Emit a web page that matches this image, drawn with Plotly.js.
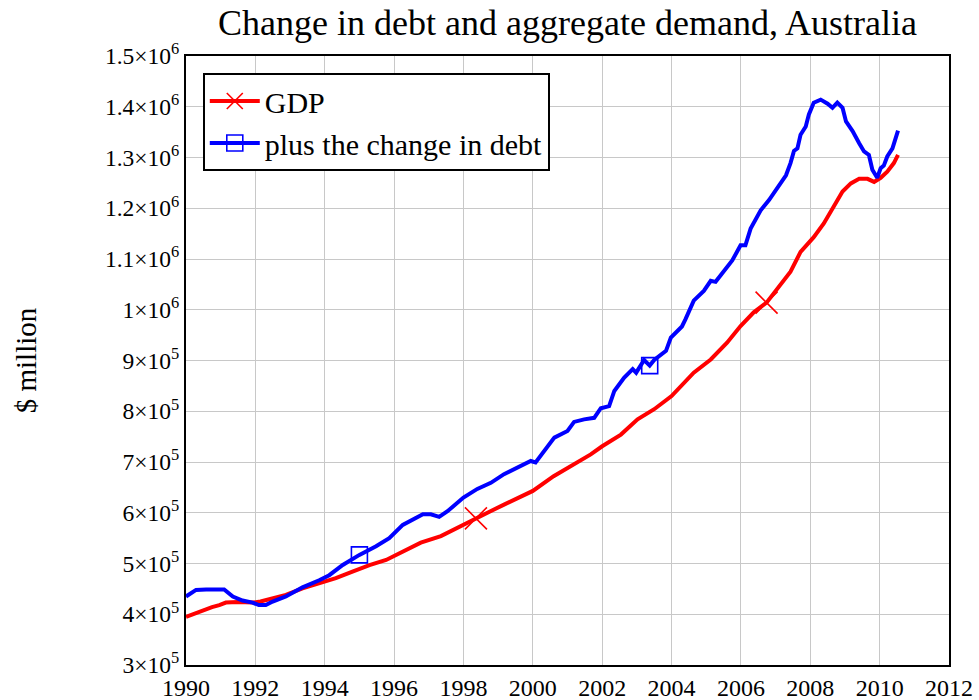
<!DOCTYPE html>
<html>
<head>
<meta charset="utf-8">
<script src="https://cdn.plot.ly/plotly-3.0.1.min.js"></script>
<style>html,body{margin:0;padding:0;background:#fff;}#chart{width:979px;height:700px;}</style>
</head>
<body>
<div id="chart"></div>
<script>
// GDP ($ million)
const gdpYears = [1990.0,1990.25,1990.48,1990.75,1990.96,1991.15,1991.5,1991.92,1992.15,1992.4,1992.88,1993.36,1993.84,1994.32,1994.8,1995.29,1995.77,1996.25,1996.77,1997.35,1998.0,1998.36,1998.75,1999.17,1999.6,2000.0,2000.6,2001.1,2001.67,2002.0,2002.54,2003.02,2003.5,2004.0,2004.27,2004.64,2005.13,2005.6,2005.99,2006.37,2006.74,2007.05,2007.43,2007.72,2008.1,2008.39,2008.68,2008.93,2009.17,2009.41,2009.65,2009.84,2010.03,2010.22,2010.41,2010.53];
const gdpValues = [395000,402000,408000,414000,418000,423000,424000,423000,425000,429000,438000,451000,461000,471000,484000,497000,507000,523000,541000,554000,577000,589000,602000,616000,629000,643000,672000,692000,715000,731000,754000,784000,804000,830000,850000,876000,902000,935000,968000,995000,1014000,1041000,1075000,1114000,1143000,1170000,1206000,1233000,1249000,1258000,1258000,1252000,1260000,1272000,1289000,1305000];
// GDP plus the change in debt ($ million)
const debtYears = [1990.0,1990.29,1990.58,1990.87,1991.1,1991.35,1991.63,1991.92,1992.1,1992.3,1992.5,1992.88,1993.36,1993.84,1994.13,1994.52,1995.0,1995.48,1995.86,1996.25,1996.54,1996.83,1997.06,1997.3,1997.54,1998.0,1998.4,1998.79,1999.17,1999.56,1999.94,2000.08,2000.28,2000.62,2001.0,2001.19,2001.48,2001.77,2001.96,2002.2,2002.35,2002.63,2002.88,2002.98,2003.21,2003.37,2003.5,2003.84,2003.98,2004.3,2004.4,2004.64,2004.93,2005.13,2005.27,2005.5,2005.75,2005.99,2006.13,2006.28,2006.57,2006.81,2007.05,2007.3,2007.43,2007.53,2007.63,2007.72,2007.87,2007.96,2008.1,2008.3,2008.5,2008.64,2008.78,2008.93,2009.03,2009.22,2009.41,2009.55,2009.69,2009.79,2009.93,2010.03,2010.12,2010.22,2010.37,2010.53];
const debtValues = [435000,448000,449000,448000,449000,435000,427000,423000,418000,418000,425000,435000,453000,467000,477000,497000,517000,534000,550000,576000,586000,597000,597000,592000,603000,630000,647000,659000,676000,689000,702000,699000,717000,748000,761000,779000,784000,787000,806000,810000,840000,866000,883000,876000,901000,890000,901000,919000,945000,967000,981000,1018000,1037000,1057000,1055000,1075000,1097000,1127000,1127000,1160000,1196000,1216000,1239000,1265000,1289000,1313000,1318000,1345000,1361000,1385000,1408000,1414000,1406000,1398000,1408000,1398000,1371000,1352000,1328000,1312000,1305000,1276000,1260000,1279000,1284000,1302000,1318000,1353000];
// indices of the points that carry plot markers
const gdpMarkerIdx = [21, 40];
const debtMarkerIdx = [16, 45];
// tick labels
const xTickVals = [1990,1992,1994,1996,1998,2000,2002,2004,2006,2008,2010,2012];
const yTickVals = [300000,400000,500000,600000,700000,800000,900000,1000000,1100000,1200000,1300000,1400000,1500000];
const yTickText = ["3×10<sup>5</sup>","4×10<sup>5</sup>","5×10<sup>5</sup>","6×10<sup>5</sup>","7×10<sup>5</sup>","8×10<sup>5</sup>","9×10<sup>5</sup>","1×10<sup>6</sup>","1.1×10<sup>6</sup>","1.2×10<sup>6</sup>","1.3×10<sup>6</sup>","1.4×10<sup>6</sup>","1.5×10<sup>6</sup>"];

const font = 'Liberation Serif';
const red = 'rgb(255,0,0)';
const blue = 'rgb(0,0,255)';
const pick = (arr, idx) => idx.map(i => arr[i]);
const xMarker = {symbol: 'x-thin-open', size: 22, color: red, line: {color: red, width: 1.6}};
const sqMarker = {symbol: 'square-open', size: 16, color: blue, line: {color: blue, width: 1.6}};

const traces = [
  {x: gdpYears, y: gdpValues, mode: 'lines', line: {color: red, width: 4}, showlegend: false, hoverinfo: 'skip'},
  {x: debtYears, y: debtValues, mode: 'lines', line: {color: blue, width: 4}, showlegend: false, hoverinfo: 'skip'},
  {x: pick(gdpYears, gdpMarkerIdx), y: pick(gdpValues, gdpMarkerIdx), mode: 'markers', showlegend: false, marker: xMarker},
  {x: pick(debtYears, debtMarkerIdx), y: pick(debtValues, debtMarkerIdx), mode: 'markers', showlegend: false, marker: sqMarker},
  {x: [null], y: [null], mode: 'lines+markers', name: 'GDP', line: {color: red, width: 4}, marker: xMarker},
  {x: [null], y: [null], mode: 'lines+markers', name: 'plus the change in debt', line: {color: blue, width: 4}, marker: sqMarker}
];

const layout = {
  width: 979, height: 700,
  margin: {l: 186, r: 30, t: 56, b: 35},
  paper_bgcolor: '#fff', plot_bgcolor: '#fff',
  font: {family: font, color: '#000', size: 24},
  title: {text: 'Change in debt and aggregate demand, Australia', font: {family: font, size: 36, color: '#000'},
          x: 0.5, xref: 'paper', y: 0.968, yref: 'container', xanchor: 'center', yanchor: 'middle'},
  xaxis: {range: [1990, 2012], tickvals: xTickVals, ticktext: xTickVals.map(String),
          showgrid: true, gridcolor: '#c8c8c8', gridwidth: 1, zeroline: false,
          showline: true, linecolor: '#000', linewidth: 2, mirror: true, ticks: '',
          tickfont: {family: font, size: 24, color: '#000'}},
  yaxis: {range: [300000, 1500000], tickvals: yTickVals, ticktext: yTickText,
          showgrid: true, gridcolor: '#c8c8c8', gridwidth: 1, zeroline: false,
          showline: true, linecolor: '#000', linewidth: 2, mirror: true, ticks: '',
          tickfont: {family: font, size: 23.5, color: '#000'},
          title: {text: '$ million', font: {family: font, size: 29, color: '#000'}, standoff: 60}},
  legend: {x: 0.022, y: 0.972, xanchor: 'left', yanchor: 'top', bgcolor: '#fff',
           bordercolor: '#000', borderwidth: 2, font: {family: font, size: 30, color: '#000'},
           tracegroupgap: 0, itemwidth: 50},
  showlegend: true
};

Plotly.newPlot('chart', traces, layout, {displayModeBar: false, staticPlot: true});
</script>
</body>
</html>
